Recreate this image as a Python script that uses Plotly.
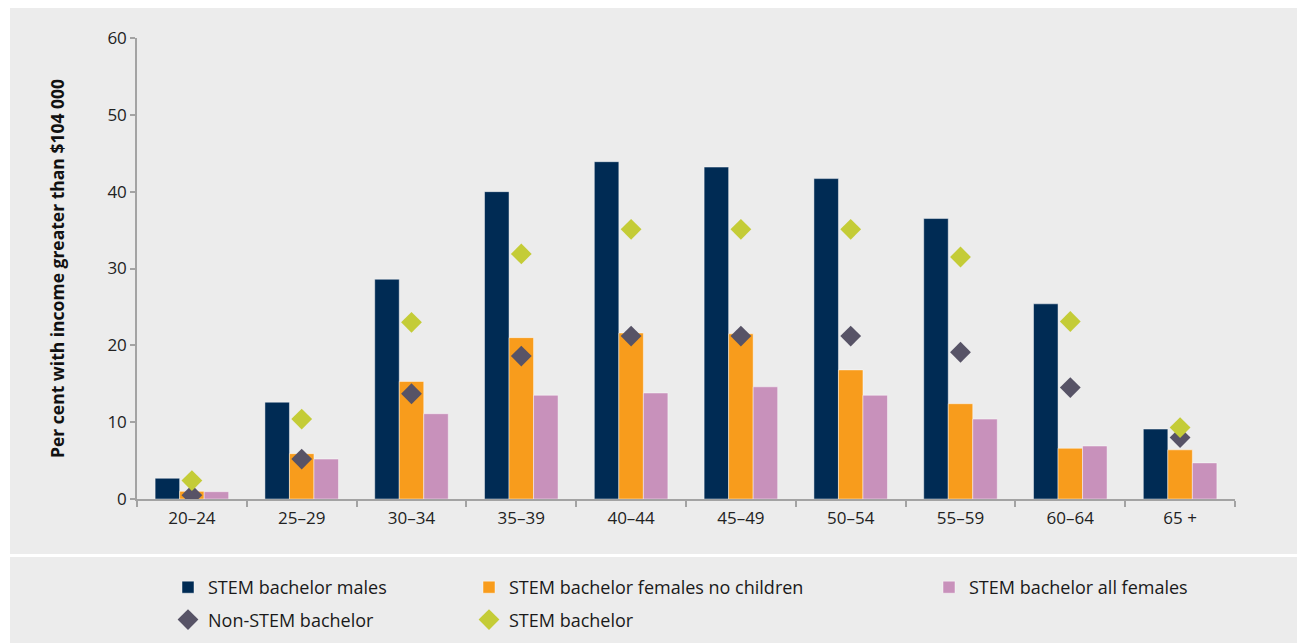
import plotly.graph_objects as go

# Age groups on the x axis
age_groups = ["20–24", "25–29", "30–34", "35–39", "40–44",
              "45–49", "50–54", "55–59", "60–64", "65 +"]

# Per cent with income greater than $104 000
stem_males = [2.7, 12.6, 28.6, 40.0, 43.9, 43.2, 41.7, 36.5, 25.4, 9.1]
stem_females_no_children = [1.0, 5.9, 15.3, 21.0, 21.6, 21.5, 16.8, 12.4, 6.6, 6.4]
stem_all_females = [0.95, 5.2, 11.1, 13.5, 13.8, 14.6, 13.5, 10.4, 6.9, 4.7]
non_stem_bachelor = [0.5, 5.2, 13.7, 18.6, 21.2, 21.2, 21.2, 19.1, 14.5, 8.0]
stem_bachelor = [2.4, 10.4, 23.0, 31.9, 35.1, 35.1, 35.1, 31.5, 23.1, 9.3]

y_ticks = [0, 10, 20, 30, 40, 50, 60]

NAVY = "#002b54"
ORANGE = "#f89c1c"
PINK = "#c891bb"
SLATE = "#575366"
LIME = "#c4cc37"
PANEL = "#ececec"
FONT = "Open Sans"

bar_edge = dict(color="rgba(255,255,255,0.45)", width=1)

fig = go.Figure()

fig.add_trace(go.Bar(x=age_groups, y=stem_males, name="STEM bachelor males",
                     marker=dict(color=NAVY, line=bar_edge),
                     legend="legend", legendgroup="a"))
fig.add_trace(go.Bar(x=age_groups, y=stem_females_no_children,
                     name="STEM bachelor females no children",
                     marker=dict(color=ORANGE, line=bar_edge),
                     legend="legend2", legendgroup="b"))
fig.add_trace(go.Bar(x=age_groups, y=stem_all_females,
                     name="STEM bachelor all females",
                     marker=dict(color=PINK, line=bar_edge),
                     legend="legend3", legendgroup="c"))
fig.add_trace(go.Scatter(x=age_groups, y=non_stem_bachelor, mode="markers",
                         name="Non-STEM bachelor",
                         marker=dict(symbol="diamond", size=16, color=SLATE),
                         legend="legend", legendgroup="d"))
fig.add_trace(go.Scatter(x=age_groups, y=stem_bachelor, mode="markers",
                         name="STEM bachelor",
                         marker=dict(symbol="diamond", size=16, color=LIME),
                         legend="legend2", legendgroup="e"))

# Plot domain in pixels: x 137..1235, y 38..499 (figure 1297 x 643)
L, R, T, B = 137, 62, 38, 144
W, H = 1297, 643
dw = W - L - R
dh = H - T - B


def px_x(p):
    return (p - L) / dw


def px_y(p):
    return (H - B - p) / dh


shapes = [
    # chart panel
    dict(type="rect", xref="paper", yref="paper", layer="below",
         x0=px_x(10), x1=px_x(1297), y0=px_y(554), y1=px_y(8),
         fillcolor=PANEL, line=dict(width=0)),
    # legend panel
    dict(type="rect", xref="paper", yref="paper", layer="below",
         x0=px_x(10), x1=px_x(1297), y0=px_y(643), y1=px_y(557),
         fillcolor=PANEL, line=dict(width=0)),
]

legend_common = dict(
    orientation="v", yanchor="top", xanchor="left",
    bgcolor="rgba(0,0,0,0)", font=dict(family=FONT, size=18, color="#1a1a1a"),
    tracegroupgap=6, itemclick=False, itemdoubleclick=False,
)

fig.update_layout(
    width=W, height=H,
    margin=dict(l=L, r=R, t=T, b=B, autoexpand=False),
    paper_bgcolor="white",
    plot_bgcolor="rgba(0,0,0,0)",
    barmode="group",
    bargap=0.33,
    bargroupgap=0,
    font=dict(family=FONT, size=17, color="#222"),
    shapes=shapes,
    legend=dict(x=px_x(168), y=px_y(569), **legend_common),
    legend2=dict(x=px_x(469), y=px_y(569), **legend_common),
    legend3=dict(x=px_x(929), y=px_y(569), **legend_common),
    xaxis=dict(
        range=[-0.5, len(age_groups) - 0.5],
        showline=True, linecolor="#a3a3a3", linewidth=1.5,
        ticks="outside", tickson="boundaries", ticklen=6,
        tickcolor="#a3a3a3", tickwidth=1.5, ticklabelstandoff=3,
        tickfont=dict(family=FONT, size=17, color="#222"),
        showgrid=False, zeroline=False,
    ),
    yaxis=dict(
        range=[0, 60], tickvals=y_ticks,
        showline=True, linecolor="#a3a3a3", linewidth=1.5,
        ticks="outside", ticklen=5, tickcolor="#a3a3a3", tickwidth=1.5,
        tickfont=dict(family=FONT, size=17, color="#222"),
        showgrid=False, zeroline=False,
        title=dict(text="<b>Per cent with income greater than $104 000</b>",
                   font=dict(family=FONT, size=17.5, color="#111"),
                   standoff=38),
    ),
)

fig.write_html("out.html")
